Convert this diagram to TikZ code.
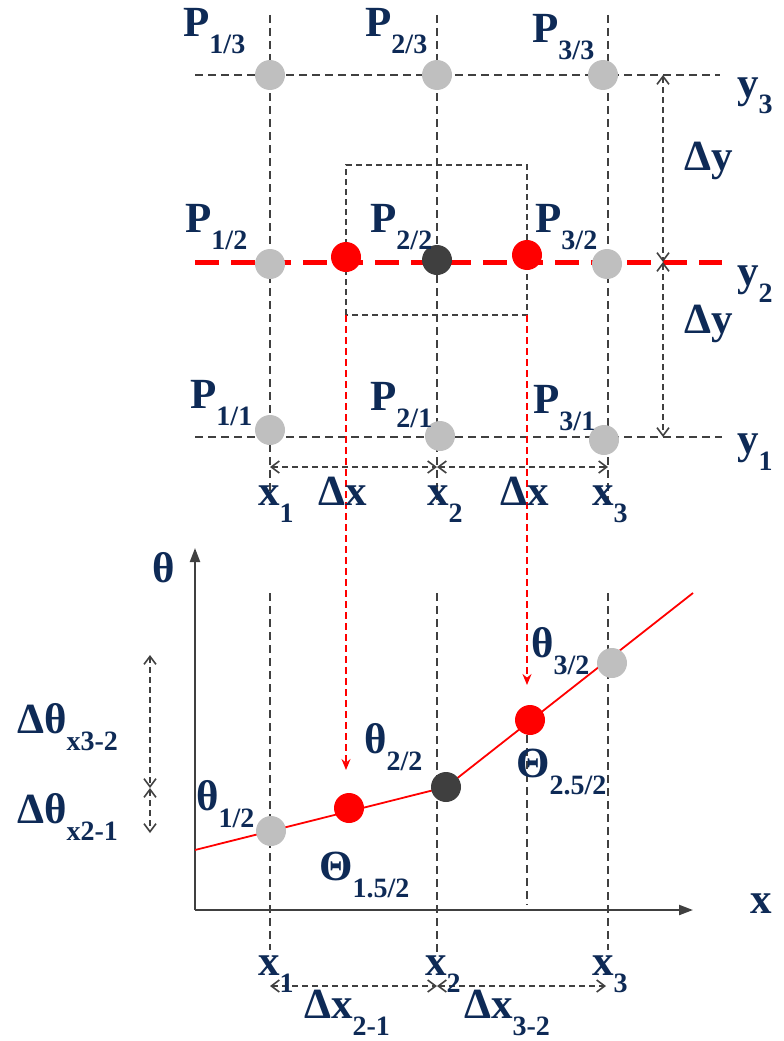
\documentclass[tikz,border=0pt]{standalone}
\usepackage{fontspec}
\setmainfont{Liberation Serif}
\usetikzlibrary{arrows.meta}
\definecolor{navy}{HTML}{0E2A56}
\definecolor{gridc}{HTML}{404040}
\definecolor{lgrey}{HTML}{BFBFBF}
\definecolor{dgrey}{HTML}{3F3F3F}
\newcommand{\sbx}[1]{\raisebox{-17pt}{\fontsize{28}{28}\selectfont #1}}
\begin{document}
\begin{tikzpicture}[x=1pt,y=-1pt,
  lab/.style={font=\fontsize{43}{43}\selectfont\bfseries, text=navy, inner sep=0pt, anchor=base west},
  gridline/.style={draw=gridc, line width=1.8pt, dash pattern=on 8pt off 5pt},
  boxline/.style={draw=gridc, line width=1.5pt, dash pattern=on 6pt off 4pt},
  redline/.style={draw=red, line width=5pt, dash pattern=on 24pt off 12pt},
  redarrow/.style={draw=red, line width=1.6pt, dash pattern=on 7pt off 4pt, -{Stealth[length=11pt,width=9pt]}},
  dimarrow/.style={draw=gridc, line width=1.5pt, dash pattern=on 6pt off 4pt, {Straight Barb[length=8pt,width=12pt,line width=1.6pt]}-{Straight Barb[length=8pt,width=12pt,line width=1.6pt]}},
  axisline/.style={draw=gridc, line width=2.2pt, -{Triangle[length=14pt,width=10pt]}},
  curve/.style={draw=red, line width=1.8pt},
  dotg/.style={circle, fill=lgrey, minimum size=30pt, inner sep=0pt},
  dotr/.style={circle, fill=red, minimum size=30pt, inner sep=0pt},
  dotd/.style={circle, fill=dgrey, minimum size=30pt, inner sep=0pt}]
\useasboundingbox (0,0) rectangle (784,1041);

% ---------- top grid ----------
\coordinate (h3a) at (195,75);  \coordinate (h3b) at (720,75);
\coordinate (h2a) at (195,262); \coordinate (h2b) at (722,262);
\coordinate (h1a) at (195,437); \coordinate (h1b) at (722,437);
\coordinate (v1a) at (270,15);  \coordinate (v1b) at (270,500);
\coordinate (v2a) at (437,15);  \coordinate (v2b) at (437,500);
\coordinate (v3a) at (608,15);  \coordinate (v3b) at (608,500);
\draw[gridline] (h3a) -- (h3b);
\draw[gridline] (h1a) -- (h1b);
\draw[gridline] (v1a) -- (v1b);
\draw[gridline] (v2a) -- (v2b);
\draw[gridline] (v3a) -- (v3b);
\draw[redline] (h2a) -- (h2b);

% dashed box
\coordinate (bx1) at (346,165); \coordinate (bx2) at (527,165);
\coordinate (bx3) at (527,315); \coordinate (bx4) at (346,315);
\draw[boxline] (bx4) -- (bx1) -- (bx2) -- (bx3) -- cycle;

% Delta y arrows
\coordinate (dy3) at (663,75); \coordinate (dy2) at (663,262); \coordinate (dy1) at (663,437);
\draw[dimarrow] (dy3) -- (dy2);
\draw[dimarrow] (dy2) -- (dy1);
% Delta x arrows
\coordinate (dx1) at (270,467); \coordinate (dx2) at (437,467); \coordinate (dx3) at (608,467);
\draw[dimarrow] (dx1) -- (dx2);
\draw[dimarrow] (dx2) -- (dx3);

% ---------- lower plot ----------
\coordinate (lv1a) at (270,593); \coordinate (lv1b) at (270,950);
\coordinate (lv2a) at (437,593); \coordinate (lv2b) at (437,955);
\coordinate (lv3a) at (608,593); \coordinate (lv3b) at (608,950);
\coordinate (lv4a) at (527,735); \coordinate (lv4b) at (527,905);
\draw[gridline] (lv1a) -- (lv1b);
\draw[gridline] (lv2a) -- (lv2b);
\draw[gridline] (lv3a) -- (lv3b);
\draw[gridline] (lv4a) -- (lv4b);

% red projection arrows
\coordinate (ra1) at (346,770); \coordinate (ra2) at (527,685);
\draw[redarrow] (bx4) -- (ra1);
\draw[redarrow] (bx3) -- (ra2);

% axes
\coordinate (O) at (195,910);
\coordinate (ytip) at (195,548);
\coordinate (xtip) at (693,910);
\draw[axisline] (O) -- (ytip);
\draw[axisline] (O) -- (xtip);

% curve
\coordinate (cA) at (195,850);
\coordinate (cM) at (446,787);
\coordinate (cB) at (693,593);
\draw[curve] (cA) -- (cM) -- (cB);

% Delta theta arrows
\coordinate (dt1) at (150,655); \coordinate (dt2) at (150,788); \coordinate (dt3) at (150,833);
\draw[dimarrow] (dt1) -- (dt2);
\draw[dimarrow] (dt2) -- (dt3);

% bottom Delta x arrows
\coordinate (bx1a) at (270,986); \coordinate (bx2a) at (437,986); \coordinate (bx3a) at (606,986);
\draw[dimarrow] (bx1a) -- (bx2a);
\draw[dimarrow] (bx2a) -- (bx3a);

% ---------- dots ----------
\node[dotg] (g13) at (270,75) {};
\node[dotg] (g23) at (437,75) {};
\node[dotg] (g33) at (603,75) {};
\node[dotg] (g12) at (270,264) {};
\node[dotr] (r12) at (346,257) {};
\node[dotd] (d22) at (437,260) {};
\node[dotr] (r32) at (527,255) {};
\node[dotg] (g32) at (607,264) {};
\node[dotg] (g11) at (270,430) {};
\node[dotg] (g21) at (440,436) {};
\node[dotg] (g31) at (604,440) {};

\node[dotg] (l1) at (271,831) {};
\node[dotr] (lr1) at (349,808) {};
\node[dotd] (ld) at (446,787) {};
\node[dotr] (lr2) at (530,720) {};
\node[dotg] (l3) at (612,663) {};

% ---------- labels ----------
\node[lab] (tP13) at (183,37) {P\sbx{1/3}};
\node[lab] (tP23) at (365,37) {P\sbx{2/3}};
\node[lab] (tP33) at (532,43) {P\sbx{3/3}};
\node[lab] (tP12) at (185,232) {P\sbx{1/2}};
\node[lab] (tP22) at (370,232) {P\sbx{2/2}};
\node[lab] (tP32) at (535,232) {P\sbx{3/2}};
\node[lab] (tP11) at (190,408) {P\sbx{1/1}};
\node[lab] (tP21) at (370,410) {P\sbx{2/1}};
\node[lab] (tP31) at (533,413) {P\sbx{3/1}};

\node[lab] (ty3) at (737,97) {y\sbx{3}};
\node[lab] (ty2) at (737,285) {y\sbx{2}};
\node[lab] (ty1) at (737,453) {y\sbx{1}};
\node[lab] (tdy1) at (684,170) {Δy};
\node[lab] (tdy2) at (684,333) {Δy};

\node[lab] (tx1) at (258,505) {x\sbx{1}};
\node[lab] (tdx1) at (318,505) {Δx};
\node[lab] (tx2) at (427,505) {x\sbx{2}};
\node[lab] (tdx2) at (500,505) {Δx};
\node[lab] (tx3) at (592,505) {x\sbx{3}};

\node[lab] (tth) at (152,582) {θ};
\node[lab] (tx) at (750,913) {x};
\node[lab] (tdt32) at (17,733) {Δθ\sbx{x3-2}};
\node[lab] (tdt21) at (17,823) {Δθ\sbx{x2-1}};
\node[lab] (tt12) at (196,810) {θ\sbx{1/2}};
\node[lab] (tt22) at (364,753) {θ\sbx{2/2}};
\node[lab] (tt32) at (531,657) {θ\sbx{3/2}};
\node[lab] (tT25) at (516,777) {Θ\sbx{2.5/2}};
\node[lab] (tT15) at (319,880) {Θ\sbx{1.5/2}};

\node[lab] (bx1) at (258,975) {x\sbx{1}};
\node[lab] (bx2) at (425,975) {x\sbx{2}};
\node[lab] (bx3) at (592,975) {x\sbx{3}};
\node[lab] (bdx21) at (304,1018) {Δx\sbx{2-1}};
\node[lab] (bdx32) at (464,1018) {Δx\sbx{3-2}};
\end{tikzpicture}
\end{document}
